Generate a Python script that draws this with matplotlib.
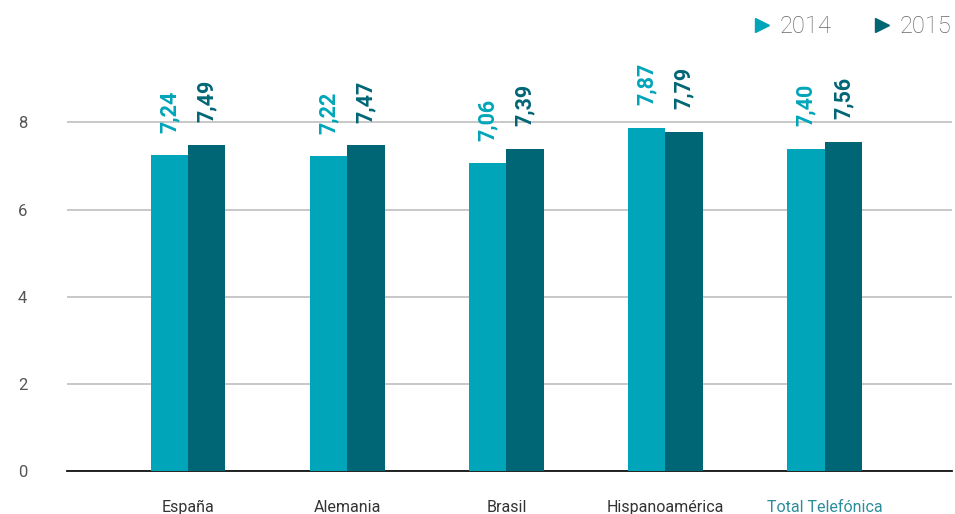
import numpy as np
import matplotlib.pyplot as plt
from matplotlib.lines import Line2D

regions = ['España', 'Alemania', 'Brasil', 'Hispanoamérica', 'Total Telefónica']
values_2014 = [7.24, 7.22, 7.06, 7.87, 7.40]
values_2015 = [7.49, 7.47, 7.39, 7.79, 7.56]
years = ['2014', '2015']
y_ticks = [0, 2, 4, 6, 8]

c14 = '#00a5b9'
c15 = '#006675'
font = 'Roboto'


def main():
    fig = plt.figure(figsize=(9.55, 5.14), dpi=100)
    ax = fig.add_axes([67 / 955, 1 - 471 / 514, (952 - 67) / 955, 414 / 514])

    x = np.arange(len(regions))
    w = 0.235
    ax.bar(x - w / 2, values_2014, w, color=c14, zorder=3)
    ax.bar(x + w / 2, values_2015, w, color=c15, zorder=3)

    # rotated value labels above each bar
    for xi, v14, v15 in zip(x, values_2014, values_2015):
        ax.text(xi - w / 2, v14 + 0.52, f'{v14:.2f}'.replace('.', ','), rotation=90,
                ha='center', va='bottom', color=c14, fontsize=15.5, fontweight='bold',
                family=font)
        ax.text(xi + w / 2, v15 + 0.52, f'{v15:.2f}'.replace('.', ','), rotation=90,
                ha='center', va='bottom', color=c15, fontsize=15.5, fontweight='bold',
                family=font)

    ax.set_xlim(-0.76, 4.8)
    ax.set_ylim(0, 9.5)
    ax.set_yticks(y_ticks)
    ax.set_yticklabels([str(t) for t in y_ticks], family=font, fontsize=12,
                       color='#555555')
    ax.tick_params(axis='y', length=0, pad=32)
    ax.tick_params(axis='x', length=0, pad=21)
    ax.set_xticks(x)
    ax.set_xticklabels(regions, family=font, fontsize=11.5, color='#333333')
    ax.get_xticklabels()[-1].set_color('#2b8c9c')
    for t in ax.get_yticklabels():
        t.set_horizontalalignment('center')

    ax.yaxis.grid(True, color='#c4c4c4', linewidth=1.3, zorder=0)
    for s in ['top', 'right', 'left']:
        ax.spines[s].set_visible(False)
    ax.spines['bottom'].set_color('#111111')
    ax.spines['bottom'].set_linewidth(1.3)

    handles = [Line2D([], [], marker='>', linestyle='none', color=c, markersize=10)
               for c in (c14, c15)]
    fig.legend(handles, years, loc='upper right', bbox_to_anchor=(0.999, 0.975),
               ncol=2, frameon=False, handlelength=0.8, handletextpad=0.35,
               columnspacing=1.75, borderpad=0.1,
               prop={'family': font, 'size': 17, 'weight': 'light'},
               labelcolor='#666666', borderaxespad=0.0)

    fig.savefig('out.png')


if __name__ == "__main__":
    main()
